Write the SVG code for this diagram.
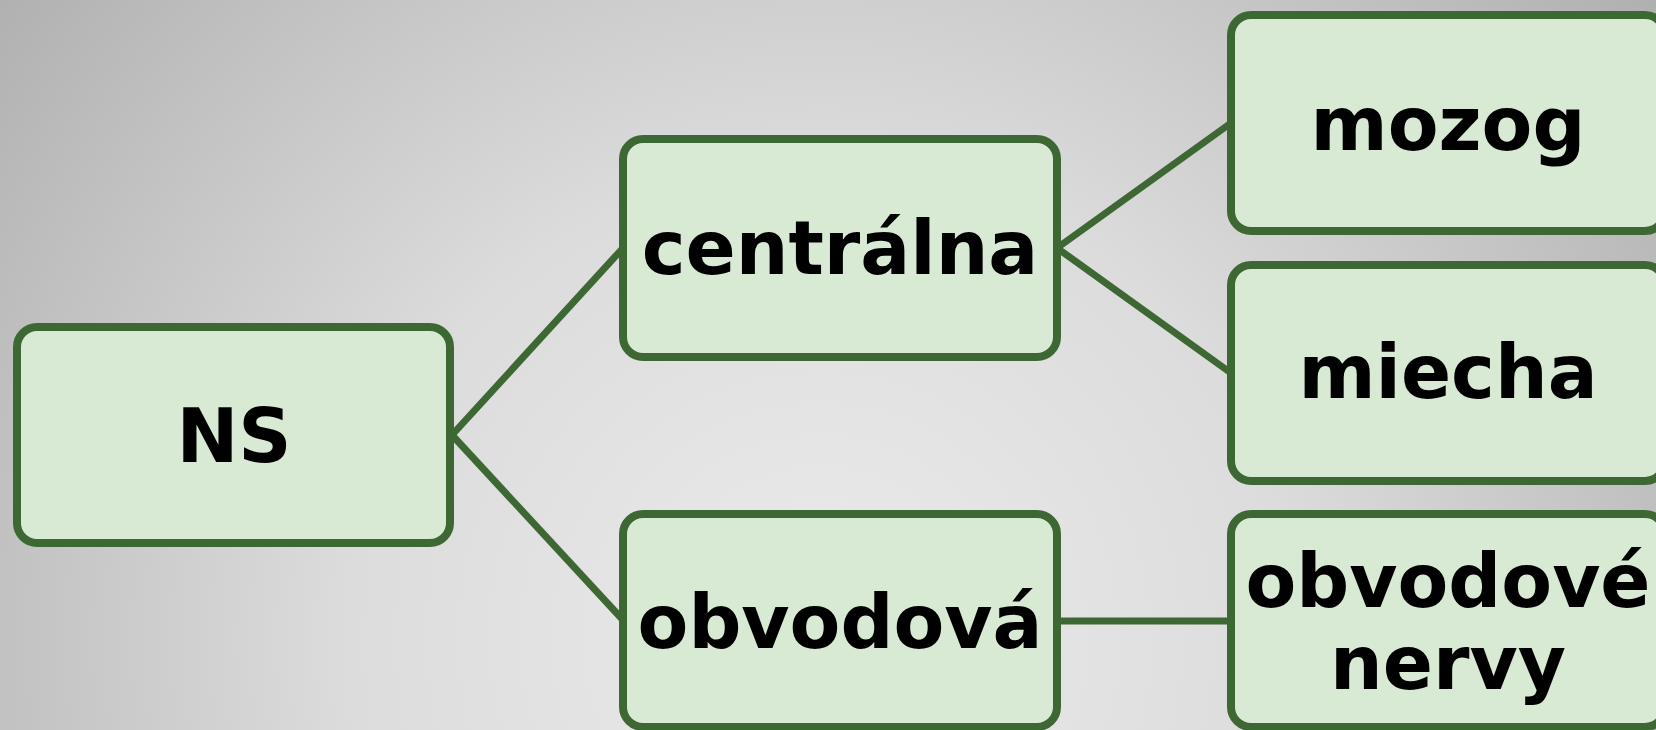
<svg xmlns="http://www.w3.org/2000/svg" width="1656" height="730" viewBox="0 0 1656 730">
  <defs>
    <radialGradient id="bg" gradientUnits="userSpaceOnUse" cx="820" cy="640" r="1050">
      <stop offset="0" stop-color="#ebebeb"/>
      <stop offset="0.45" stop-color="#dcdcdc"/>
      <stop offset="1" stop-color="#b0b0b0"/>
    </radialGradient>
    <style>
      .box { fill: #d9ead4; stroke: #3d6833; stroke-width: 8; }
      .lbl { font-family: "DejaVu Sans", Verdana, sans-serif; font-weight: bold; font-size: 74px; fill: #000; text-anchor: middle; }
      .conn { stroke: #3d6833; stroke-width: 7; fill: none; }
    </style>
  </defs>
  <rect x="0" y="0" width="1656" height="730" fill="url(#bg)"/>
  <g id="connectors">
    <line class="conn" x1="452" y1="435" x2="623" y2="248"/>
    <line class="conn" x1="452" y1="435" x2="623" y2="620"/>
    <line class="conn" x1="1057" y1="248" x2="1231" y2="123"/>
    <line class="conn" x1="1057" y1="248" x2="1231" y2="373"/>
    <line class="conn" x1="1057" y1="621" x2="1231" y2="621"/>
  </g>
  <g id="node-ns">
    <rect class="box" x="17" y="327" width="433" height="216" rx="20"/>
    <text class="lbl" x="234" y="462">NS</text>
  </g>
  <g id="node-centralna">
    <rect class="box" x="623" y="139" width="434" height="218" rx="20"/>
    <text class="lbl" x="840" y="274">centrálna</text>
  </g>
  <g id="node-obvodova">
    <rect class="box" x="623" y="514" width="434" height="213" rx="20"/>
    <text class="lbl" x="840" y="648">obvodová</text>
  </g>
  <g id="node-mozog">
    <rect class="box" x="1231" y="15" width="434" height="216" rx="20"/>
    <text class="lbl" x="1448" y="150">mozog</text>
  </g>
  <g id="node-miecha">
    <rect class="box" x="1231" y="265" width="434" height="216" rx="20"/>
    <text class="lbl" x="1448" y="398">miecha</text>
  </g>
  <g id="node-obvodove-nervy">
    <rect class="box" x="1231" y="514" width="434" height="213" rx="20"/>
    <text class="lbl" x="1448" y="607">obvodové</text>
    <text class="lbl" x="1448" y="689">nervy</text>
  </g>
</svg>
